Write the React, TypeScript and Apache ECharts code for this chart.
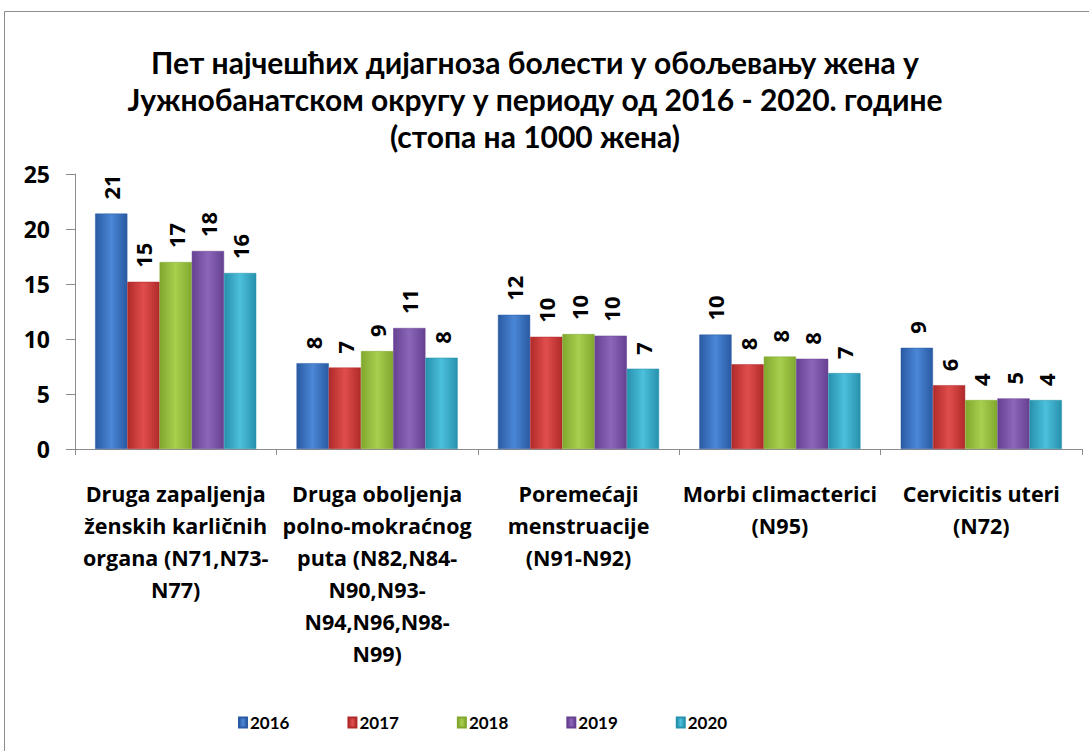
import React, { useEffect, useRef } from "react";
import * as echarts from "echarts";

const titleText =
  "Пет најчешћих дијагноза болести у обољевању жена у\nЈужнобанатском округу у периоду од 2016 - 2020. године\n(стопа на 1000 жена)";

const categories = [
  "Druga zapaljenja\nženskih karličnih\norgana (N71,N73-\nN77)",
  "Druga oboljenja\npolno-mokraćnog\nputa (N82,N84-\nN90,N93-\nN94,N96,N98-\nN99)",
  "Poremećaji\nmenstruacije\n(N91-N92)",
  "Morbi climacterici\n(N95)",
  "Cervicitis uteri\n(N72)",
];

const years = ["2016", "2017", "2018", "2019", "2020"];

const v2016 = [21.4, 7.8, 12.2, 10.4, 9.2];
const v2017 = [15.2, 7.4, 10.2, 7.7, 5.8];
const v2018 = [17.0, 8.9, 10.45, 8.4, 4.45];
const v2019 = [18.0, 11.0, 10.3, 8.2, 4.6];
const v2020 = [16.0, 8.3, 7.3, 6.9, 4.45];

const yTicks = { min: 0, max: 25, interval: 5 };

const seriesValues = [v2016, v2017, v2018, v2019, v2020];

const palette = [
  ["#2a5aa3", "#4a87d6", "#2a5aa3"],
  ["#b02a2a", "#e04e4c", "#b02a2a"],
  ["#80a82e", "#a9cf4e", "#80a82e"],
  ["#664192", "#8c66b8", "#664192"],
  ["#2791ad", "#4cc0dc", "#2791ad"],
];

const TITLE_FONT = "Lato";
const FONT = "Open Sans";

export default function App() {
  const ref = useRef<HTMLDivElement>(null);
  useEffect(() => {
    if (!ref.current) return;
    const chart = echarts.init(ref.current, undefined, { renderer: "svg" });
    const series = years.map((y, i) => ({
      name: y,
      type: "bar",
      data: seriesValues[i],
      barGap: "0%",
      barCategoryGap: "20%",
      itemStyle: {
        color: new echarts.graphic.LinearGradient(0, 0, 1, 0, [
          { offset: 0, color: palette[i][0] },
          { offset: 0.5, color: palette[i][1] },
          { offset: 1, color: palette[i][2] },
        ]),
        borderColor: palette[i][0],
        borderWidth: 0.5,
      },
      label: {
        show: true,
        position: "top",
        rotate: 90,
        align: "left",
        verticalAlign: "middle",
        distance: 14,
        fontFamily: FONT,
        fontWeight: "bold",
        fontSize: 22,
        color: "#000",
        formatter: (p: any) => String(Math.round(p.value)),
      },
    }));
    chart.setOption({
      animation: false,
      backgroundColor: "#fff",
      title: {
        text: titleText,
        left: 530,
        top: 38,
        textAlign: "center",
        textStyle: {
          fontFamily: TITLE_FONT,
          fontWeight: "bold",
          fontSize: 30,
          lineHeight: 37,
          color: "#000",
        },
      },
      graphic: [
        {
          type: "rect",
          shape: { x: 4.5, y: 11.5, width: 1095, height: 760 },
          style: { fill: "none", stroke: "#8c8c8c", lineWidth: 1 },
          silent: true,
        },
      ],
      legend: {
        left: 233,
        top: 709,
        itemWidth: 8,
        itemHeight: 10,
        itemGap: 58,
        icon: "rect",
        textStyle: {
          fontFamily: TITLE_FONT,
          fontWeight: "bold",
          fontSize: 17,
          color: "#000",
          padding: [0, 0, 0, -2],
        },
        data: years,
      },
      grid: { left: 75, right: 7, top: 174, bottom: 302, containLabel: false },
      xAxis: {
        type: "category",
        data: categories,
        axisLine: { lineStyle: { color: "#8c8c8c", width: 1 } },
        axisTick: { show: true, length: 6, lineStyle: { color: "#8c8c8c" } },
        axisLabel: {
          interval: 0,
          margin: 28,
          fontFamily: FONT,
          fontWeight: "bold",
          fontSize: 21.5,
          lineHeight: 32,
          color: "#000",
          align: "center",
        },
      },
      yAxis: {
        type: "value",
        min: yTicks.min,
        max: yTicks.max,
        interval: yTicks.interval,
        splitLine: { show: false },
        axisLine: { show: true, lineStyle: { color: "#8c8c8c", width: 1 } },
        axisTick: { show: true, length: 9, lineStyle: { color: "#8c8c8c" } },
        axisLabel: {
          margin: 25,
          fontFamily: FONT,
          fontWeight: "bold",
          fontSize: 23,
          color: "#000",
        },
      },
      series,
    });
    return () => chart.dispose();
  }, []);
  return (
    <div
      ref={ref}
      style={{ position: "fixed", left: 0, top: 0, width: 1089, height: 751 }}
    />
  );
}
